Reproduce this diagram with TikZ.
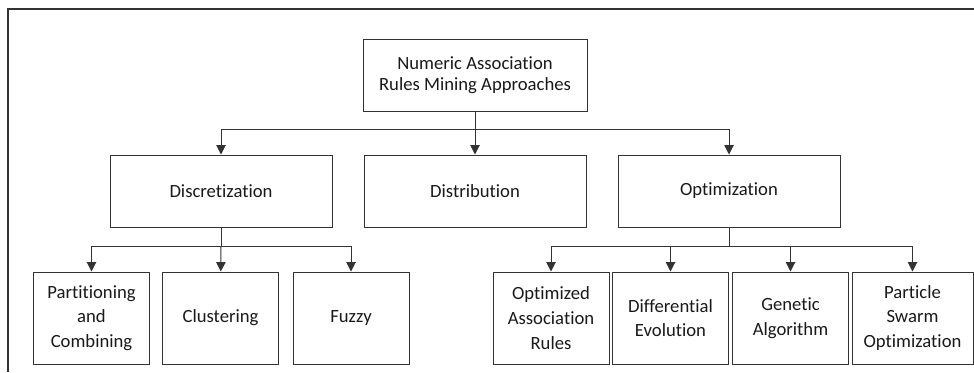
\documentclass[tikz,border=0pt]{standalone}
\usepackage{fontspec}
\setmainfont{Carlito}[Ligatures=NoCommon]
\usepackage{tikz}
\usetikzlibrary{positioning,calc,arrows.meta}

\begin{document}
\begin{tikzpicture}[x=0.75pt, y=-0.75pt, >={Triangle[width=7pt,length=7pt]}, line width=0.75pt]
    \tikzstyle{root node} = [rectangle, draw=black!80, text=black!90, align=center, inner sep=0pt, minimum width=168pt, minimum height=54pt, font=\fontsize{14}{15.5}\selectfont]
    \tikzstyle{group node} = [rectangle, draw=black!80, text=black!90, align=center, inner sep=0pt, minimum width=166.5pt, minimum height=54pt, font=\fontsize{14}{18}\selectfont]
    \tikzstyle{leaf node} = [rectangle, draw=black!80, text=black!90, align=center, inner sep=0pt, minimum width=87pt, minimum height=69pt, font=\fontsize{14}{18.5}\selectfont]
    \useasboundingbox (0,0) rectangle (974,372);
    % open frame
    \draw[black!80, line width=1pt] (974,9) -- (8,9) -- (8,372);
    % nodes
    \node[root node] (approaches) at (475,75) {Numeric Association\\Rules Mining Approaches};
    \node[group node] (discretization) at (221,191) {Discretization};
    \node[group node] (distribution) at (475,191) {Distribution};
    \node[group node] (optimization) at (729,191) {Optimization};
    \node[leaf node] (partitioning) at (91.5,318) {Partitioning\\and\\Combining};
    \node[leaf node] (clustering) at (220.5,318) {Clustering};
    \node[leaf node] (fuzzy) at (351,318) {Fuzzy};
    \node[leaf node] (oar) at (551,318) {Optimized\\Association\\Rules};
    \node[leaf node] (de) at (670.5,318) {Differential\\Evolution};
    \node[leaf node] (ga) at (790.5,318) {Genetic\\Algorithm};
    \node[leaf node, minimum width=90.75pt] (pso) at (912.5,318) {Particle\\Swarm\\Optimization};
    % bus lines
    \coordinate (mainbus) at ($(approaches.south)+(0,18)$);
    \coordinate (discbus) at ($(discretization.south)+(0,19)$);
    \coordinate (optbus) at ($(optimization.south)+(0,19)$);
    \draw[->, black!80] (approaches) -- (distribution);
    \draw[->, black!80] (mainbus) -| (discretization);
    \draw[->, black!80] (mainbus) -| (optimization);
    \draw[black!80] (discretization) -- (discbus);
    \draw[->, black!80] (discbus) -| (partitioning);
    \draw[->, black!80] (discbus) -- (clustering);
    \draw[->, black!80] (discbus) -| (fuzzy);
    \draw[black!80] (optimization) -- (optbus);
    \draw[->, black!80] (optbus) -| (oar);
    \draw[->, black!80] (optbus) -| (de);
    \draw[->, black!80] (optbus) -| (ga);
    \draw[->, black!80] (optbus) -| (pso);
\end{tikzpicture}
\end{document}
